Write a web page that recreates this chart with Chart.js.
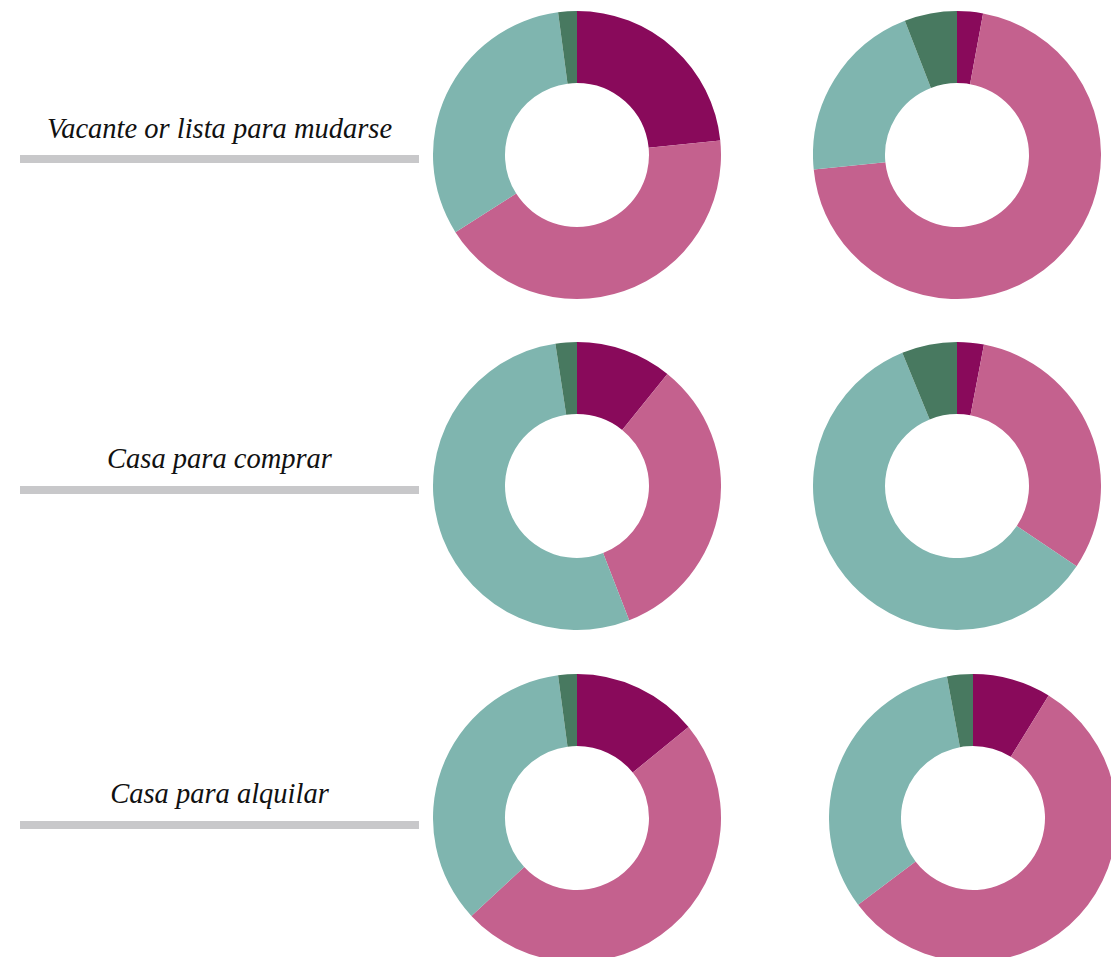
<!DOCTYPE html>
<html>
<head>
<meta charset="utf-8">
<script src="https://cdn.jsdelivr.net/npm/chart.js@4"></script>
<style>
  html, body { margin: 0; padding: 0; background: #fff; }
  body { width: 1111px; height: 957px; overflow: hidden; position: relative; }
  .row-label {
    position: absolute;
    left: 20px;
    width: 399px;
    text-align: center;
    font-family: "Liberation Serif", "DejaVu Serif", serif;
    font-style: italic;
    font-size: 28.5px;
    line-height: 28.5px;
    color: #111;
    white-space: nowrap;
  }
  .row-bar { position: absolute; left: 20px; width: 399px; height: 8px; background: #c8c8ca; }
  canvas { position: absolute; }
</style>
</head>
<body>
<script>
// rows and the two groups shown side by side
const rowLabels = ['Vacante or lista para mudarse', 'Casa para comprar', 'Casa para alquilar'];
const categories = ['Categoría 1', 'Categoría 2', 'Categoría 3', 'Categoría 4'];
const sliceColors = ['#890a5b', '#c4618e', '#7fb5af', '#487960'];

// percentages per row, left column then right column
const leftValues = [
  [23.4, 42.6, 31.9, 2.1],
  [10.8, 33.3, 53.5, 2.4],
  [14.1, 49.0, 34.8, 2.1]
];
const rightValues = [
  [2.9, 70.5, 20.7, 5.9],
  [3.0, 31.4, 59.4, 6.2],
  [8.8, 55.9, 32.4, 2.9]
];

const rowCenterY = [155, 486, 818];
const barTop = [155, 486, 821];
const labelBaseline = [139, 469, 804];
const colCenterX = [[577, 957], [577, 957], [577, 973]];
const size = 288;

function addDonut(cx, cy, values) {
  const canvas = document.createElement('canvas');
  canvas.width = size;
  canvas.height = size;
  canvas.style.left = (cx - size / 2) + 'px';
  canvas.style.top = (cy - size / 2) + 'px';
  document.body.appendChild(canvas);

  new Chart(canvas, {
    type: 'doughnut',
    data: {
      labels: categories,
      datasets: [{
        data: values,
        backgroundColor: sliceColors,
        borderWidth: 0
      }]
    },
    options: {
      responsive: false,
      animation: false,
      cutout: '50%',
      layout: { padding: 0 },
      plugins: {
        legend: { display: false },
        tooltip: { enabled: false }
      }
    }
  });
}

rowLabels.forEach((label, i) => {
  const text = document.createElement('div');
  text.className = 'row-label';
  text.textContent = label;
  text.style.top = (labelBaseline[i] - 24) + 'px';
  document.body.appendChild(text);

  const bar = document.createElement('div');
  bar.className = 'row-bar';
  bar.style.top = barTop[i] + 'px';
  document.body.appendChild(bar);

  addDonut(colCenterX[i][0], rowCenterY[i], leftValues[i]);
  addDonut(colCenterX[i][1], rowCenterY[i], rightValues[i]);
});
</script>
</body>
</html>
